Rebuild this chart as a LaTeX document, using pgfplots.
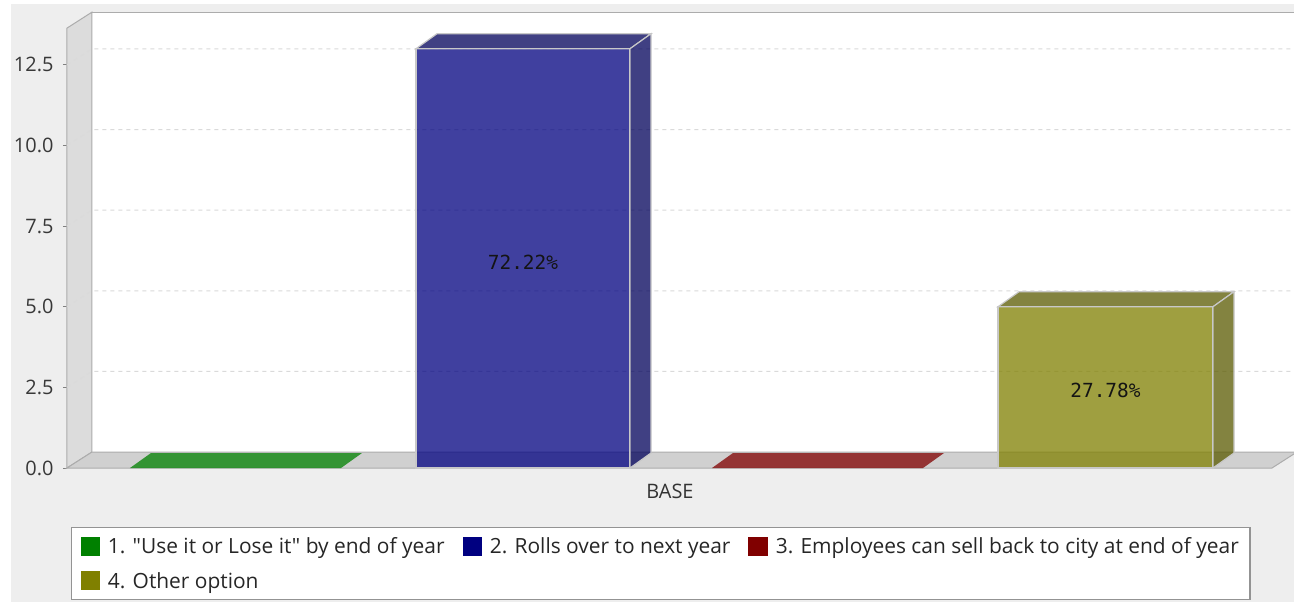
\documentclass[border=0pt]{standalone}
\usepackage{fontspec}
\setmainfont{Open Sans}[Ligatures=TeXOff]
\newfontfamily\monofont{DejaVu Sans Mono}
\usepackage{pgfplots}
\pgfplotsset{compat=1.18}
\definecolor{cgreen}{RGB}{0,128,0}
\definecolor{cblue}{RGB}{0,0,128}
\definecolor{cred}{RGB}{128,0,0}
\definecolor{colive}{RGB}{128,128,0}
\definecolor{cblueD}{RGB}{0,0,90}
\definecolor{coliveD}{RGB}{90,90,0}
\definecolor{bgc}{RGB}{238,238,238}
\definecolor{wallc}{RGB}{220,220,220}
\definecolor{floorc}{RGB}{208,208,208}
\definecolor{edgec}{RGB}{172,172,172}
\definecolor{gridc}{RGB}{218,218,218}
\definecolor{outl}{RGB}{200,200,200}
\begin{document}
\begin{tikzpicture}
\fill[white] (-67bp,-134bp) rectangle (1227bp,468bp);
\fill[bgc] (-56bp,-134bp) rectangle (1227bp,464bp);
\begin{axis}[
  at={(0,0)}, anchor=south west,
  x={(1bp,0)}, y={(0,32.25bp)},
  xmin=0, xmax=1205, ymin=0, ymax=13.64,
  clip=false,
  axis lines*=left,
  axis line style={draw=none},
  xtick={603}, xticklabels={BASE},
  xtick style={draw=none},
  xticklabel style={font=\fontsize{20}{24}\selectfont, text=black!80, yshift=-9bp},
  ytick={0,2.5,5,7.5,10,12.5},
  yticklabel style={font=\fontsize{20}{24}\selectfont, text=black!78, xshift=-6bp,
    /pgf/number format/fixed, /pgf/number format/fixed zerofill, /pgf/number format/precision=1},
  /pgf/number format/assume math mode=true,
  tick align=outside, major tick length=4bp,
  ytick style={draw=gray, line width=1bp},
  legend columns=3,
  legend cell align=left,
  legend style={at={(axis cs:4,-1.829)}, anchor=north west, draw=gray!85, line width=1.3bp, fill=white,
    font=\fontsize{21}{25}\selectfont, text=black!85, inner xsep=9bp, inner ysep=8bp, row sep=13bp,
    /tikz/every odd column/.append style={column sep=6bp},
    /tikz/every even column/.append style={column sep=16bp}},
]
% back wall
\addplot[forget plot, fill=white, draw=edgec, line width=1bp] coordinates {(25,0.496) (1235,0.496) (1235,14.136) (25,14.136)} -- cycle;
% left wall
\addplot[forget plot, fill=wallc, draw=edgec, line width=1bp] coordinates {(0,0) (25,0.496) (25,14.136) (0,13.64)} -- cycle;
% floor
\addplot[forget plot, fill=floorc, draw=edgec, line width=1bp] coordinates {(0,0) (1205,0) (1230,0.496) (25,0.496)} -- cycle;
% grid lines
\addplot[forget plot, gridc, line width=1bp, dash pattern=on 4bp off 4bp] coordinates {(0,2.5) (25,2.996) (1235,2.996)};
\addplot[forget plot, gridc, line width=1bp, dash pattern=on 4bp off 4bp] coordinates {(0,5) (25,5.496) (1235,5.496)};
\addplot[forget plot, gridc, line width=1bp, dash pattern=on 4bp off 4bp] coordinates {(0,7.5) (25,7.996) (1235,7.996)};
\addplot[forget plot, gridc, line width=1bp, dash pattern=on 4bp off 4bp] coordinates {(0,10) (25,10.496) (1235,10.496)};
\addplot[forget plot, gridc, line width=1bp, dash pattern=on 4bp off 4bp] coordinates {(0,12.5) (25,12.996) (1235,12.996)};
% bar 1 (value 0)
\addplot[forget plot, fill=cgreen, fill opacity=0.75, draw=none] coordinates {(63,0) (84,0.465) (295,0.465) (274,0)} -- cycle;
% bar 2 (value 13)
\addplot[forget plot, fill=cblue, fill opacity=0.75, draw=outl, line width=1.2bp] coordinates {(349,0) (563,0) (563,13) (349,13)} -- cycle;
\addplot[forget plot, fill=cblueD, fill opacity=0.75, draw=outl, line width=1.2bp] coordinates {(349,13) (370,13.465) (584,13.465) (563,13)} -- cycle;
\addplot[forget plot, fill=cblueD, fill opacity=0.75, draw=outl, line width=1.2bp] coordinates {(563,0) (584,0.465) (584,13.465) (563,13)} -- cycle;
% bar 3 (value 0)
\addplot[forget plot, fill=cred, fill opacity=0.75, draw=none] coordinates {(645,0) (666,0.465) (877,0.465) (856,0)} -- cycle;
% bar 4 (value 5)
\addplot[forget plot, fill=colive, fill opacity=0.75, draw=outl, line width=1.2bp] coordinates {(931,0) (1146,0) (1146,5) (931,5)} -- cycle;
\addplot[forget plot, fill=coliveD, fill opacity=0.75, draw=outl, line width=1.2bp] coordinates {(931,5) (952,5.465) (1167,5.465) (1146,5)} -- cycle;
\addplot[forget plot, fill=coliveD, fill opacity=0.75, draw=outl, line width=1.2bp] coordinates {(1146,0) (1167,0.465) (1167,5.465) (1146,5)} -- cycle;
% value labels
\addplot[forget plot, draw=none, mark=none, nodes near coords, point meta=explicit symbolic,
  nodes near coords style={anchor=center, font=\monofont\fontsize{19.5}{22}\selectfont, text=black!92}]
  coordinates {(456,6.39) [72.22\%] (1038.5,2.42) [27.78\%]};
% legend
\addlegendimage{legend image code/.code={\fill[cgreen] (0bp,-9bp) rectangle (18bp,9bp);}}
\addlegendentry{1. "Use it or Lose it" by end of year}
\addlegendimage{legend image code/.code={\fill[cblue] (0bp,-9bp) rectangle (18bp,9bp);}}
\addlegendentry{2. Rolls over to next year}
\addlegendimage{legend image code/.code={\fill[cred] (0bp,-9bp) rectangle (18bp,9bp);}}
\addlegendentry{3. Employees can sell back to city at end of year}
\addlegendimage{legend image code/.code={\fill[colive] (0bp,-9bp) rectangle (18bp,9bp);}}
\addlegendentry{4. Other option}
\end{axis}
\pgfresetboundingbox
\path[use as bounding box] (-67bp,-134bp) rectangle (1227bp,468bp);
\end{tikzpicture}
\end{document}
